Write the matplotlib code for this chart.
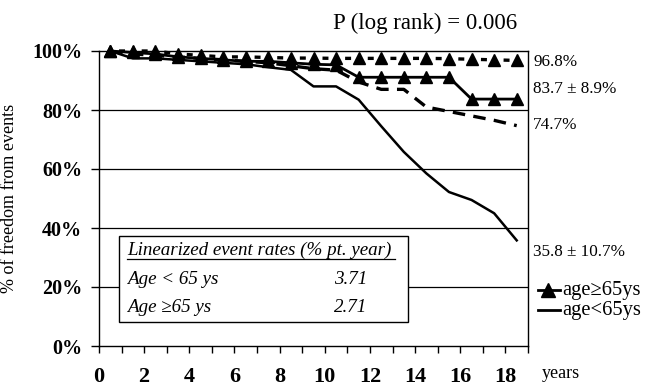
import matplotlib.pyplot as plt
from matplotlib.lines import Line2D
from matplotlib.patches import Rectangle

plt.rcParams['font.family'] = ['Liberation Serif', 'DejaVu Serif']
plt.rcParams['lines.scale_dashes'] = False

# ------------------------------------------------------------
# data (% free from events)
# ------------------------------------------------------------
years = [0.5, 1.5, 2.5, 3.5, 4.5, 5.5, 6.5, 7.5, 8.5, 9.5,
         10.5, 11.5, 12.5, 13.5, 14.5, 15.5, 16.5, 17.5, 18.5]

old_fit = [100, 100, 100, 99, 98.5, 98, 98, 97.8, 97.6, 97.6,
           97.5, 97.5, 97.5, 97.5, 97.5, 97.4, 97.2, 97, 96.8]
old_km = [100, 99.5, 99, 98, 97.5, 97, 96.5, 96.5, 96, 95.5,
          95.3, 91.1, 91.1, 91.1, 91.1, 91.1, 83.7, 83.7, 83.7]
young_fit = [100, 99, 98.5, 98, 97.5, 97, 96.5, 96, 95, 94,
             93.5, 89.5, 87, 87, 81, 79.5, 78, 76.5, 74.7]
young_km = [100, 97.5, 97.5, 97, 96.5, 96, 95.5, 94.5, 93.6, 88,
            88, 83.5, 74.5, 65.8, 58.5, 52.2, 49.5, 45, 35.8]

end_labels = ["96.8%", "83.7 \u00b1 8.9%", "74.7%", "35.8 \u00b1 10.7%"]
end_label_y = [96.4, 87.2, 75, 32]

y_ticks = [0, 20, 40, 60, 80, 100]
y_ticklabels = ["0%", "20%", "40%", "60%", "80%", "100%"]
x_labels = ["0", "2", "4", "6", "8", "10", "12", "14", "16", "18"]

rate_groups = ["Age < 65 ys", "Age \u226565 ys"]
rate_values = ["3.71", "2.71"]

W, H = 646, 390


def fx(x):
    return x / W


def fy(y):
    return 1 - y / H


fig = plt.figure(figsize=(W / 100, H / 100), dpi=100)
ax = fig.add_axes([fx(99), fy(346), fx(528 - 99), (346 - 51) / H])

ax.plot(years, young_km, color='black', lw=1.8, zorder=3)
ax.plot(years, young_fit, color='black', lw=2.4, linestyle=(0, (9, 6)), zorder=3)
ax.plot(years, old_km, color='black', lw=2.0, marker='^', ms=9, zorder=4,
        clip_on=False)
ax.plot(years, old_fit, color='black', lw=2.4, linestyle=(10, (4.3, 12)),
        marker='^', ms=9, zorder=4, clip_on=False)

ax.set_xlim(0, 19)
ax.set_ylim(0, 100)
ax.set_xticks(range(0, 20))
ax.set_xticklabels([x_labels[i // 2] if i % 2 == 0 else "" for i in range(20)])
ax.set_yticks(y_ticks)
ax.set_yticklabels(y_ticklabels)
for t in ax.get_yticklabels():
    t.set_fontsize(14.5)
    t.set_fontweight('bold')
for t in ax.get_xticklabels():
    t.set_fontsize(16)
    t.set_fontweight('bold')
ax.tick_params(axis='y', length=6, width=1, direction='out', pad=6)
ax.tick_params(axis='x', length=5, width=1, direction='out', pad=10)
for y in [20, 40, 60, 80]:
    ax.axhline(y, color='black', lw=0.9, zorder=1)
for s in ax.spines.values():
    s.set_linewidth(1.0)

ax.set_ylabel("% of freedom from events", fontsize=13)
ax.yaxis.set_label_coords((18 - 99) / 429, 0.5)

for lab, y in zip(end_labels, end_label_y):
    ax.text(1.012, y, lab, transform=ax.get_yaxis_transform(),
            fontsize=12.3, va='center', ha='left')

fig.text(fx(425), fy(23), "P (log rank) = 0.006", fontsize=16.5,
         ha='center', va='center')
fig.text(fx(542), fy(374), "years", fontsize=13, ha='left', va='center')

# table box
box = Rectangle((fx(119), fy(322)), fx(408 - 119), (322 - 236) / H,
                transform=fig.transFigure, facecolor='white',
                edgecolor='black', lw=1.0, zorder=5)
fig.patches.append(box)
fig.text(fx(127), fy(250), "Linearized event rates (% pt. year)",
         fontsize=13.7, style='italic', ha='left', va='center', zorder=6)
fig.lines.append(Line2D([fx(127), fx(395)], [fy(259), fy(259)],
                        transform=fig.transFigure, color='black', lw=0.9,
                        zorder=6))
for i, (g, v) in enumerate(zip(rate_groups, rate_values)):
    yy = 280 + 28 * i
    fig.text(fx(127), fy(yy), g, fontsize=13.7, style='italic',
             ha='left', va='center', zorder=6)
    fig.text(fx(351), fy(yy), v, fontsize=13.7, style='italic',
             ha='center', va='center', zorder=6)

# legend
fig.lines.append(Line2D([fx(538), fx(560)], [fy(290), fy(290)],
                        transform=fig.transFigure, color='black', lw=2.0))
fig.lines.append(Line2D([fx(548)], [fy(290)], transform=fig.transFigure,
                        color='black', marker='^', ms=10, lw=0))
fig.text(fx(562), fy(290), "age\u226565ys", fontsize=14.8, ha='left', va='center')
fig.lines.append(Line2D([fx(538), fx(560)], [fy(310), fy(310)],
                        transform=fig.transFigure, color='black', lw=2.0))
fig.text(fx(562), fy(310), "age<65ys", fontsize=14.8, ha='left', va='center')

fig.savefig("out.png", dpi=100)
